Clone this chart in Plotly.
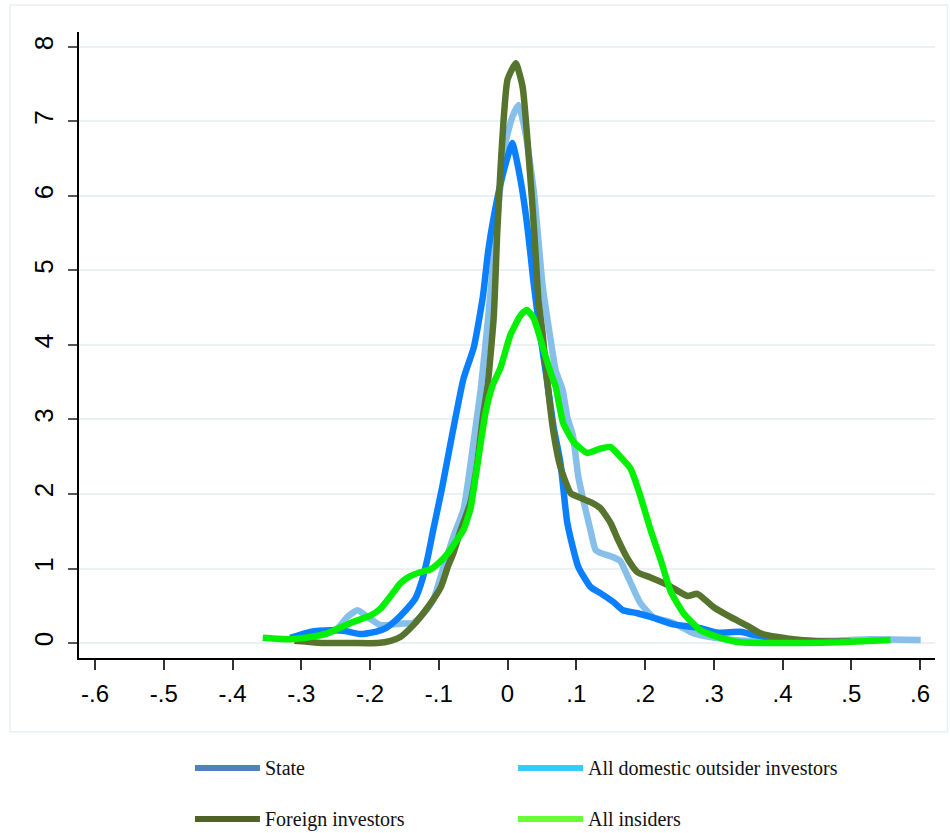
import plotly.graph_objects as go

# Kernel density estimates of the outcome, by ownership group
state_x = [-0.316, -0.287, -0.257, -0.236, -0.214, -0.192, -0.177, -0.163, -0.148, -0.134,
           -0.124, -0.116, -0.108, -0.095, -0.080, -0.064, -0.049, -0.036, -0.028, -0.020,
           -0.010, 0.000, 0.007, 0.019, 0.029, 0.038, 0.048, 0.058, 0.067, 0.077,
           0.087, 0.103, 0.121, 0.135, 0.154, 0.168, 0.189, 0.208, 0.241, 0.281,
           0.305, 0.339, 0.358, 0.397, 0.455]
state_y = [0.07, 0.15, 0.17, 0.16, 0.12, 0.15, 0.20, 0.30, 0.44, 0.60,
           0.85, 1.15, 1.52, 2.09, 2.82, 3.55, 3.97, 4.64, 5.27, 5.72,
           6.17, 6.52, 6.71, 6.21, 5.58, 4.83, 4.11, 3.49, 2.90, 2.42,
           1.61, 1.02, 0.75, 0.67, 0.55, 0.44, 0.40, 0.35, 0.25, 0.20,
           0.14, 0.15, 0.11, 0.05, 0.02]

domestic_x = [-0.301, -0.272, -0.247, -0.233, -0.218, -0.202, -0.185, -0.156, -0.137, -0.122,
              -0.108, -0.093, -0.079, -0.064, -0.057, -0.047, -0.039, -0.028, -0.017, -0.010,
              -0.006, 0.007, 0.016, 0.026, 0.038, 0.045, 0.051, 0.063, 0.070, 0.080,
              0.087, 0.095, 0.103, 0.112, 0.121, 0.128, 0.135, 0.154, 0.164, 0.175,
              0.193, 0.212, 0.241, 0.271, 0.295, 0.329, 0.397, 0.470, 0.528, 0.601]
domestic_y = [0.07, 0.12, 0.20, 0.35, 0.44, 0.34, 0.24, 0.26, 0.27, 0.40,
              0.58, 1.02, 1.42, 1.79, 2.19, 2.86, 3.40, 4.38, 5.50, 6.17,
              6.60, 7.06, 7.22, 6.85, 6.08, 5.40, 4.80, 4.05, 3.66, 3.40,
              3.03, 2.79, 2.23, 1.85, 1.50, 1.25, 1.21, 1.15, 1.10, 0.89,
              0.54, 0.35, 0.27, 0.13, 0.08, 0.04, 0.02, 0.03, 0.05, 0.04]

foreign_x = [-0.310, -0.294, -0.268, -0.228, -0.189, -0.170, -0.156, -0.137, -0.116, -0.097,
             -0.087, -0.079, -0.068, -0.054, -0.044, -0.035, -0.029, -0.020, -0.015, -0.010,
             -0.006, 0.000, 0.012, 0.022, 0.029, 0.036, 0.041, 0.045, 0.051, 0.058,
             0.067, 0.077, 0.092, 0.106, 0.121, 0.135, 0.150, 0.161, 0.176, 0.189,
             0.208, 0.233, 0.262, 0.276, 0.300, 0.324, 0.349, 0.368, 0.393, 0.426,
             0.470, 0.499]
foreign_y = [0.03, 0.02, 0.00, 0.00, 0.00, 0.03, 0.08, 0.24, 0.48, 0.75,
             1.02, 1.20, 1.52, 1.88, 2.42, 3.09, 3.45, 4.38, 5.50, 6.39,
             6.98, 7.56, 7.78, 7.46, 6.75, 5.90, 5.20, 4.60, 4.16, 3.49,
             2.82, 2.36, 2.01, 1.95, 1.89, 1.81, 1.61, 1.38, 1.11, 0.95,
             0.88, 0.78, 0.63, 0.66, 0.48, 0.35, 0.23, 0.13, 0.08, 0.04,
             0.02, 0.02]

insiders_x = [-0.356, -0.316, -0.287, -0.262, -0.228, -0.199, -0.185, -0.166, -0.156, -0.141,
              -0.127, -0.112, -0.097, -0.087, -0.076, -0.064, -0.054, -0.047, -0.042, -0.032,
              -0.022, -0.010, 0.004, 0.019, 0.028, 0.038, 0.052, 0.063, 0.070, 0.081,
              0.096, 0.116, 0.135, 0.150, 0.164, 0.179, 0.193, 0.208, 0.223, 0.237,
              0.256, 0.281, 0.310, 0.339, 0.426, 0.484, 0.557]
insiders_y = [0.07, 0.05, 0.08, 0.13, 0.27, 0.37, 0.46, 0.68, 0.80, 0.90,
              0.95, 0.99, 1.10, 1.20, 1.35, 1.52, 1.80, 2.20, 2.50, 3.09,
              3.45, 3.70, 4.13, 4.40, 4.47, 4.36, 3.95, 3.62, 3.44, 2.95,
              2.70, 2.55, 2.61, 2.63, 2.50, 2.34, 1.98, 1.52, 1.11, 0.70,
              0.40, 0.17, 0.07, 0.01, 0.00, 0.01, 0.04]

series_names = ["State", "All domestic outsider investors", "Foreign investors", "All insiders"]
line_colors = ["#0A80FF", "#86BFE9", "#56742E", "#04F004"]
key_colors = ["#4F81BD", "#33CCFF", "#4F6228", "#66FF33"]

x_ticks = [-0.6, -0.5, -0.4, -0.3, -0.2, -0.1, 0, 0.1, 0.2, 0.3, 0.4, 0.5, 0.6]
x_tick_text = ["-.6", "-.5", "-.4", "-.3", "-.2", "-.1", "0", ".1", ".2", ".3", ".4", ".5", ".6"]
y_ticks = [0, 1, 2, 3, 4, 5, 6, 7, 8]

fig = go.Figure()

# draw order: domestic first, then state, foreign and insiders on top
data = {
    "State": (state_x, state_y),
    "All domestic outsider investors": (domestic_x, domestic_y),
    "Foreign investors": (foreign_x, foreign_y),
    "All insiders": (insiders_x, insiders_y),
}
for name in ["All domestic outsider investors", "State", "Foreign investors", "All insiders"]:
    xs, ys = data[name]
    i = series_names.index(name)
    fig.add_trace(go.Scatter(
        x=xs, y=ys, mode="lines", name=name, showlegend=False,
        line=dict(color=line_colors[i], width=6.5, shape="spline", smoothing=0.5),
    ))

# light outer frame around the graph region
fig.add_shape(type="rect", xref="paper", yref="paper",
              x0=-0.0806, x1=1.0145, y0=-0.118, y1=1.043,
              line=dict(color="#E9EFF3", width=1.5), fillcolor="rgba(0,0,0,0)", layer="below")

# legend below the plot: two columns, keys drawn as thick lines
key_x0 = [0.1355, 0.5129, 0.1355, 0.5129]
key_y = [-0.1757, -0.1757, -0.2572, -0.2572]
for i, name in enumerate(series_names):
    fig.add_shape(type="line", xref="paper", yref="paper",
                  x0=key_x0[i], x1=key_x0[i] + 0.0759, y0=key_y[i], y1=key_y[i],
                  line=dict(color=key_colors[i], width=6))
    fig.add_annotation(xref="paper", yref="paper", x=key_x0[i] + 0.0794, y=key_y[i],
                       text=name, showarrow=False, xanchor="left", yanchor="middle",
                       font=dict(family="Liberation Serif", size=20, color="#111111"))

fig.update_layout(
    width=950, height=833,
    margin=dict(l=79, r=15, t=32, b=175),
    paper_bgcolor="white", plot_bgcolor="white",
    showlegend=False,
)
fig.update_xaxes(
    range=[-0.6233, 0.6218], tickvals=x_ticks, ticktext=x_tick_text,
    showgrid=False, zeroline=False,
    showline=True, linecolor="black", linewidth=1.5,
    ticks="outside", ticklen=10, tickwidth=1.5, tickcolor="#333333",
    tickfont=dict(family="Liberation Sans", size=24, color="black"),
    ticklabelstandoff=3,
)
fig.update_yaxes(
    range=[-0.201, 8.2], tickvals=y_ticks,
    showgrid=True, gridcolor="#EAF1F3", gridwidth=2, zeroline=False,
    showline=True, linecolor="black", linewidth=1.5,
    ticks="outside", ticklen=9, tickwidth=1.5, tickcolor="#555555",
    tickangle=-90, tickfont=dict(family="Liberation Sans", size=26, color="black"),
    ticklabelstandoff=5,
)

fig.write_html("out.html")
